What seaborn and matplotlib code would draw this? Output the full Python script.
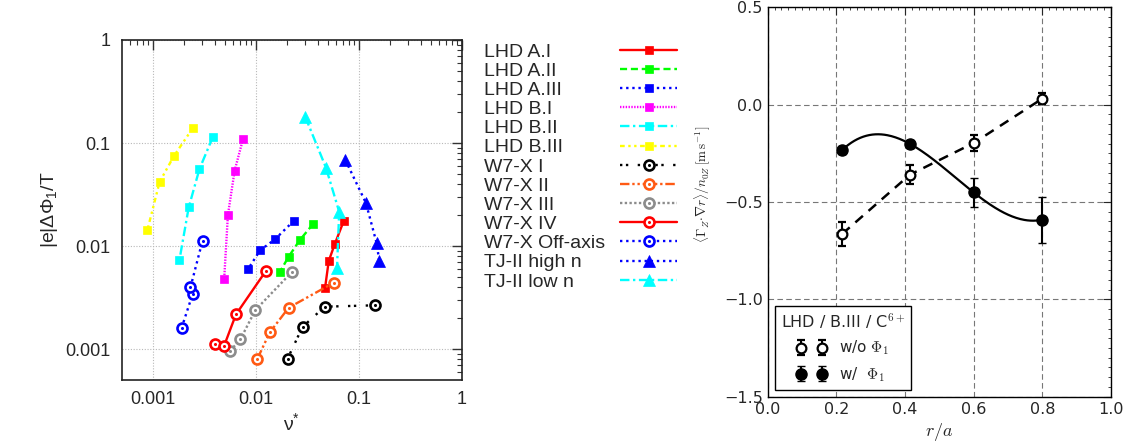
import numpy as np
import pandas as pd
import matplotlib
matplotlib.use("Agg")
import matplotlib.pyplot as plt
from matplotlib.lines import Line2D
from matplotlib.legend_handler import HandlerTuple
from matplotlib.ticker import (LogLocator, MultipleLocator, NullFormatter, FixedLocator,
                               FixedFormatter, FormatStrFormatter, FuncFormatter)
import seaborn as sns

# ---------------- data: |e| dPhi1 / T versus nu* ----------------
series_names = ["LHD A.I", "LHD A.II", "LHD A.III", "LHD B.I", "LHD B.II", "LHD B.III",
                "W7-X I", "W7-X II", "W7-X III", "W7-X IV", "W7-X Off-axis",
                "TJ-II high n", "TJ-II low n"]

lhd_a1_nu = [0.0716, 0.0585, 0.0512, 0.0471]
lhd_a1_phi = [0.0175, 0.0104, 0.00715, 0.00388]
lhd_a2_nu = [0.0363, 0.0267, 0.0209, 0.0172]
lhd_a2_phi = [0.0165, 0.01135, 0.00788, 0.00562]
lhd_a3_nu = [0.0235, 0.01535, 0.01104, 0.00844]
lhd_a3_phi = [0.0176, 0.0116, 0.00908, 0.00598]
lhd_b1_nu = [0.00753, 0.00625, 0.00538, 0.00495]
lhd_b1_phi = [0.1087, 0.0538, 0.0200, 0.00479]
lhd_b2_nu = [0.00385, 0.00285, 0.00224, 0.00182]
lhd_b2_phi = [0.115, 0.056, 0.0237, 0.0073]
lhd_b3_nu = [0.00247, 0.00161, 0.00117, 0.00089]
lhd_b3_phi = [0.141, 0.0748, 0.042, 0.0143]
w7x_1_nu = [0.0204, 0.0285, 0.0468, 0.1426]
w7x_1_phi = [0.000805, 0.00164, 0.00258, 0.00266]
w7x_2_nu = [0.0104, 0.0137, 0.0209, 0.0571]
w7x_2_phi = [0.000805, 0.00145, 0.00252, 0.0044]
w7x_3_nu = [0.00566, 0.0071, 0.00993, 0.0225]
w7x_3_phi = [0.000963, 0.00124, 0.00239, 0.0056]
w7x_4_nu = [0.00402, 0.00495, 0.00644, 0.0126]
w7x_4_phi = [0.00111, 0.00108, 0.00217, 0.00575]
w7x_off_nu = [0.00191, 0.00245, 0.00233, 0.00305]
w7x_off_phi = [0.0016, 0.00344, 0.00397, 0.01125]
tj2_high_nu = [0.0743, 0.1178, 0.149, 0.1585]
tj2_high_phi = [0.0684, 0.0261, 0.01076, 0.0072]
tj2_low_nu = [0.0303, 0.0482, 0.0647, 0.0616]
tj2_low_phi = [0.180, 0.0575, 0.0215, 0.00607]

nu_values = [lhd_a1_nu, lhd_a2_nu, lhd_a3_nu, lhd_b1_nu, lhd_b2_nu, lhd_b3_nu,
             w7x_1_nu, w7x_2_nu, w7x_3_nu, w7x_4_nu, w7x_off_nu, tj2_high_nu, tj2_low_nu]
phi_values = [lhd_a1_phi, lhd_a2_phi, lhd_a3_phi, lhd_b1_phi, lhd_b2_phi, lhd_b3_phi,
              w7x_1_phi, w7x_2_phi, w7x_3_phi, w7x_4_phi, w7x_off_phi, tj2_high_phi, tj2_low_phi]
log_tick_labels = ["0.001", "0.01", "0.1", "1"]

# ---------------- data: C6+ radial flux, LHD B.III ----------------
r_over_a = [0.217, 0.414, 0.600, 0.800]
flux_without_phi1 = [-0.664, -0.360, -0.197, 0.031]
err_without_phi1 = [0.060, 0.050, 0.040, 0.027]
flux_with_phi1 = [-0.233, -0.201, -0.451, -0.591]
err_with_phi1 = [0.020, 0.020, 0.073, 0.118]

# ---------------- styles ----------------
series_colors = ["#ff0000", "#00ff00", "#0000ff", "#ff00ff", "#00ffff", "#ffff00",
                 "#000000", "#ff5a14", "#8c8c8c", "#ff0000", "#0000ff", "#0000ff", "#00ffff"]
series_dashes = ["-", (0, (3, 1.6)), (0, (1, 1.6)), (0, (0.6, 0.6)), (0, (4, 1.5, 1, 1.5)),
                 (0, (2, 1.5, 1, 1.5, 1, 1.5)), (0, (1, 1.5, 1, 4)),
                 (0, (4, 1.2, 1, 1.2, 1, 1.2)), (0, (1, 1)), "-", (0, (1, 1.6)),
                 (0, (1, 1.6)), (0, (4, 1.5, 1, 1.5))]
series_markers = ["s"] * 6 + ["o"] * 5 + ["^"] * 2

sns.set_style("white", {"axes.edgecolor": "black",
                        "xtick.direction": "in", "ytick.direction": "in"})
plt.rcParams["font.family"] = ["Liberation Sans", "DejaVu Sans"]
plt.rcParams["mathtext.fontset"] = "cm"

fig = plt.figure(figsize=(11.38, 4.43), dpi=100)
W, H = 1138.0, 443.0
ax1 = fig.add_axes([121.7 / W, 63 / H, 340 / W, 340 / H])
ax2 = fig.add_axes([767.7 / W, 46.3 / H, 343.3 / W, 389.4 / H])

# ---------------- left panel ----------------
ax1.set_xscale("log")
ax1.set_yscale("log")
legend_handles = []
for name, nu, phi, color, ls, mk in zip(series_names, nu_values, phi_values,
                                        series_colors, series_dashes, series_markers):
    df = pd.DataFrame({"nu": nu, "phi": phi})
    if mk == "o":
        style = dict(marker="o", ms=7.2, mfc="white", mec=color, mew=1.9)
    elif mk == "^":
        style = dict(marker="^", ms=8, mfc=color, mec=color, mew=0.5)
    else:
        style = dict(marker="s", ms=6, mfc=color, mec=color, mew=0.5)
    sns.lineplot(data=df, x="nu", y="phi", sort=False, estimator=None, ax=ax1,
                 color=color, linestyle=ls, lw=1.7, zorder=3, **style)
    line = ax1.lines[-1]
    if mk == "o":
        sns.lineplot(data=df, x="nu", y="phi", sort=False, estimator=None, ax=ax1,
                     color=color, linestyle="none", marker="o", ms=2.2, mec=color,
                     mfc=color, mew=0, zorder=4)
        dot = Line2D([], [], linestyle="none", marker="o", ms=2.2, color=color, mew=0)
        legend_handles.append((line, dot))
    else:
        legend_handles.append(line)

ax1.set_xlim(10 ** -3.3, 1)
ax1.set_ylim(10 ** -3.3, 1)
ax1.xaxis.set_major_locator(FixedLocator([1e-3, 1e-2, 1e-1, 1]))
ax1.xaxis.set_major_formatter(FixedFormatter(log_tick_labels))
ax1.yaxis.set_major_locator(FixedLocator([1e-3, 1e-2, 1e-1, 1]))
ax1.yaxis.set_major_formatter(FixedFormatter(log_tick_labels))
for axis in (ax1.xaxis, ax1.yaxis):
    axis.set_minor_locator(LogLocator(base=10, subs=np.arange(2, 10), numticks=20))
    axis.set_minor_formatter(NullFormatter())
ax1.tick_params(which="both", direction="in", top=True, right=True, labelsize=13,
                color="#333333")
ax1.tick_params(which="major", length=7, width=1.0, pad=8)
ax1.tick_params(which="minor", length=3.5, width=0.8)
ax1.grid(True, which="major", color="#b8b8b8", linestyle=(0, (1, 1.5)), lw=0.8)
for sp in ax1.spines.values():
    sp.set_linewidth(1.2)
    sp.set_color("#222222")
ax1.set_xlabel(r"$\mathregular{\nu^{*}}$", fontsize=14, labelpad=3)
ax1.set_ylabel(r"$\mathregular{|e|\Delta\Phi_1/T}$", fontsize=14, labelpad=4)

# legend: names in one column, line samples in another
blank = [Line2D([], [], linestyle="none") for _ in series_names]
fig.legend(blank, series_names, loc="upper left", bbox_to_anchor=(484 / W, 1 - 43 / H),
           frameon=False, fontsize=14, handlelength=0, handletextpad=0,
           borderpad=0, borderaxespad=0, labelspacing=0.08)
fig.legend(legend_handles, [" "] * len(series_names), loc="upper left",
           bbox_to_anchor=(620 / W, 1 - 43 / H), frameon=False, fontsize=14,
           handlelength=2.95, handletextpad=0, borderpad=0, borderaxespad=0,
           labelspacing=0.08, numpoints=1,
           handler_map={tuple: HandlerTuple(ndivide=1)})

# ---------------- right panel ----------------
rdf_wo = pd.DataFrame({"r": r_over_a, "flux": flux_without_phi1})
sns.lineplot(data=rdf_wo, x="r", y="flux", sort=False, estimator=None, ax=ax2,
             color="black", linestyle=(0, (4, 3)), lw=1.8, zorder=2)
coef = np.polyfit(r_over_a, flux_with_phi1, 3)
r_fine = np.linspace(min(r_over_a), max(r_over_a), 200)
rdf_fit = pd.DataFrame({"r": r_fine, "flux": np.polyval(coef, r_fine)})
sns.lineplot(data=rdf_fit, x="r", y="flux", sort=False, estimator=None, ax=ax2,
             color="black", lw=1.6, zorder=2)

eb_wo = ax2.errorbar(r_over_a, flux_without_phi1, yerr=err_without_phi1, fmt="o",
                     ms=7, mfc="white", mec="black", mew=1.6, ecolor="black",
                     elinewidth=1.5, capsize=3, capthick=1.5, zorder=4)
eb_w = ax2.errorbar(r_over_a, flux_with_phi1, yerr=err_with_phi1, fmt="o",
                    ms=8, mfc="black", mec="black", mew=1.0, ecolor="black",
                    elinewidth=1.5, capsize=3, capthick=1.5, zorder=4)

ax2.set_xlim(0, 1)
ax2.set_ylim(-1.5, 0.5)
ax2.xaxis.set_major_locator(MultipleLocator(0.2))
ax2.xaxis.set_minor_locator(MultipleLocator(0.02))
ax2.yaxis.set_major_locator(MultipleLocator(0.5))
ax2.yaxis.set_minor_locator(MultipleLocator(0.05))
ax2.xaxis.set_major_formatter(FormatStrFormatter("%.1f"))
ax2.yaxis.set_major_formatter(FuncFormatter(
    lambda v, p: ("%.1f" % v).replace("-", "\u2212")))
ax2.tick_params(which="both", direction="in", top=True, right=True, labelsize=11.5,
                labelfontfamily="DejaVu Sans")
ax2.tick_params(which="major", length=6, width=0.8)
ax2.tick_params(which="minor", length=2.5, width=0.6)
ax2.grid(True, which="major", color="#777777", linestyle=(0, (5, 3)), lw=0.8)
for sp in ax2.spines.values():
    sp.set_linewidth(1.0)
ax2.set_xlabel(r"$r/a$", fontsize=13, labelpad=3)
ax2.set_ylabel(r"$\langle \Gamma_Z \!\cdot\! \nabla r \rangle / n_{0Z}\, [\mathrm{m\,s^{-1}}]$",
               fontsize=9.5)
ax2.yaxis.set_label_coords(-0.159, 0.544)

leg2 = ax2.legend([eb_wo, eb_w], [r"w/o $\Phi_1$", r"w/  $\Phi_1$"],
                  title=r"LHD / B.III / C$^{6+}$", loc="lower left", numpoints=2,
                  fancybox=False, edgecolor="black", framealpha=1,
                  borderaxespad=0.45, handlelength=2.0,
                  prop={"family": "DejaVu Sans", "size": 11})
leg2.get_frame().set_linewidth(1.0)
leg2.get_title().set_fontfamily("DejaVu Sans")
leg2.get_title().set_fontsize(11.5)

fig.savefig("out.png", dpi=100, facecolor="white")
